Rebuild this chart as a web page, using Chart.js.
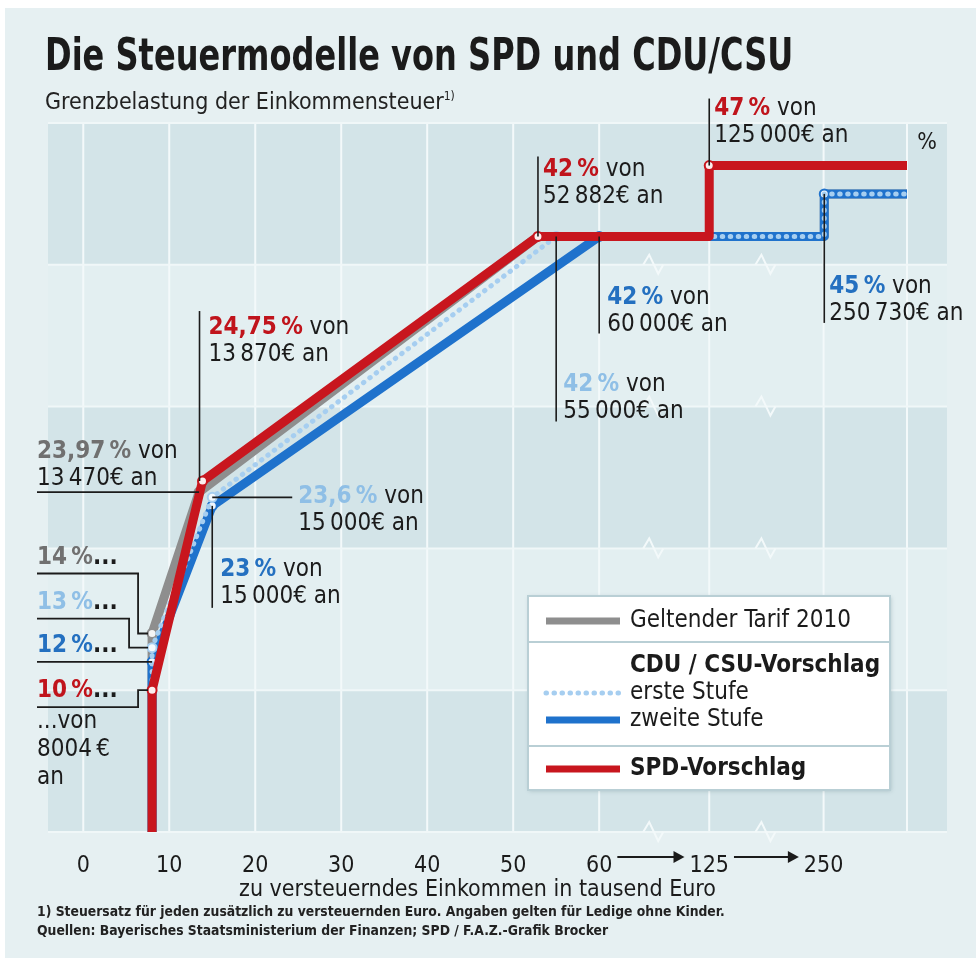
<!DOCTYPE html>
<html lang="de">
<head>
<meta charset="UTF-8" />
<title>Die Steuermodelle von SPD und CDU/CSU</title>
<style>
  body { margin: 0; width: 976px; height: 958px; background: #fff; position: relative; overflow: hidden;
         font-family: "DejaVu Sans Condensed", "Liberation Sans Narrow", "DejaVu Sans", sans-serif; color: #1b1b1b; }
  #panel { position: absolute; left: 5px; top: 8px; width: 971px; height: 950px; background: #e6f0f2; }
  h1 { position: absolute; left: 45px; top: 29px; margin: 0; font-size: 44px; font-weight: bold; z-index: 2;
       white-space: nowrap; transform: scaleX(0.81); transform-origin: 0 0; }
  .sub { position: absolute; left: 45px; top: 88px; font-size: 23px; z-index: 2; color: #222; }
  .sub sup { font-size: 12px; }
  canvas { position: absolute; left: 0; top: 0; z-index: 1; }
  .foot { position: absolute; left: 37px; top: 902px; font-size: 13.8px; line-height: 19px; font-weight: bold; color: #222; z-index: 2; }
</style>
</head>
<body>
  <div id="panel"></div>
  <h1>Die Steuermodelle von SPD und CDU/CSU</h1>
  <div class="sub">Grenzbelastung der Einkommensteuer<sup>1)</sup></div>
  <canvas id="chart" width="976" height="958"></canvas>
  <div class="foot">
    1) Steuersatz für jeden zusätzlich zu versteuernden Euro. Angaben gelten für Ledige ohne Kinder.<br />
    Quellen: Bayerisches Staatsministerium der Finanzen; SPD / F.A.Z.-Grafik Brocker
  </div>

  <script src="https://cdn.jsdelivr.net/npm/chart.js"></script>
  <script>
    const FONT = '"DejaVu Sans Condensed", "Liberation Sans Narrow", "DejaVu Sans", sans-serif';

    // Einkommen in tausend Euro, Grenzsteuersatz in Prozent
    const incomeTarif2010 = [8.004, 8.004, 13.47, 52.882, 250.73, 250.73, 340];
    const rateTarif2010 = [0, 14, 23.97, 42, 42, 45, 45];

    const incomeCduStufe1 = [8.004, 8.004, 15, 55, 250.73, 250.73, 340];
    const rateCduStufe1 = [0, 13, 23.6, 42, 42, 45, 45];

    const incomeCduStufe2 = [8.004, 8.004, 15, 60, 250.73, 250.73, 340];
    const rateCduStufe2 = [0, 12, 23, 42, 42, 45, 45];

    const incomeSpd = [8.004, 8.004, 13.87, 52.882, 125, 125, 340];
    const rateSpd = [0, 10, 24.75, 42, 42, 47, 47];

    const xTickValues = [0, 10, 20, 30, 40, 50, 60, 125, 250];
    const yTickValues = [0, 10, 20, 30, 40];
    const legendGroupTitle = "CDU / CSU-Vorschlag";

    const RED = "#c8161e", GRAY = "#8e8e8e", BLUE = "#1f72cc", LIGHT = "#a6cef0";
    const TXT_RED = "#c0141c", TXT_GRAY = "#707070", TXT_BLUE = "#2470c0", TXT_LIGHT = "#8fbfe6";
    const INK = "#1b1b1b";

    // gestauchte x-Achse: 60 -> 125 -> 250
    const breakIn = [0, 60, 125, 250, 340];
    const breakOut = [0, 60, 72.8, 86.1, 95.8];
    function axisX(k) {
      for (let i = 1; i < breakIn.length; i++) {
        if (k <= breakIn[i]) {
          const t = (k - breakIn[i - 1]) / (breakIn[i] - breakIn[i - 1]);
          return breakOut[i - 1] + t * (breakOut[i] - breakOut[i - 1]);
        }
      }
      return breakOut[breakOut.length - 1];
    }
    const toPoints = (inc, rate) => inc.map((k, i) => ({ x: axisX(k), y: rate[i] }));
    const marker = (idx) => (c) => (idx.includes(c.dataIndex) ? 4.5 : 0);

    const pct = (r) => String(r).replace(".", ",") + "\u202F%";
    const eur = (k) => {
      const n = Math.round(k * 1000);
      const s = n >= 10000 ? String(n).replace(/\B(?=(\d{3})+(?!\d))/g, "\u2009") : String(n);
      return s + "€";
    };

    const datasets = [
      {
        label: "SPD-Vorschlag",
        data: toPoints(incomeSpd, rateSpd),
        borderColor: RED, borderWidth: 9, order: 1,
        pointRadius: marker([1, 2, 3, 5]),
        pointBackgroundColor: "#fbeeee", pointBorderColor: RED, pointBorderWidth: 2,
      },
      {
        label: "erste Stufe",
        data: toPoints(incomeCduStufe1, rateCduStufe1),
        borderColor: LIGHT, borderWidth: 5, borderDash: [0.5, 7.5], borderCapStyle: "round", order: 2,
        pointRadius: marker([1, 2, 3]),
        pointBackgroundColor: "#f4f9fd", pointBorderColor: LIGHT, pointBorderWidth: 2,
      },
      {
        label: "zweite Stufe",
        data: toPoints(incomeCduStufe2, rateCduStufe2),
        borderColor: BLUE, borderWidth: 9, order: 3,
        pointRadius: marker([1, 2, 3, 5]),
        pointBackgroundColor: "#eef5fc", pointBorderColor: BLUE, pointBorderWidth: 2,
      },
      {
        label: "Geltender Tarif 2010",
        data: toPoints(incomeTarif2010, rateTarif2010),
        borderColor: GRAY, borderWidth: 9, order: 4,
        pointRadius: marker([1, 2]),
        pointBackgroundColor: "#f4f4f4", pointBorderColor: GRAY, pointBorderWidth: 2,
      },
    ];
    datasets.forEach((d) => { d.fill = false; d.tension = 0; d.borderJoinStyle = "round"; d.pointHoverRadius = 0; });

    // Beschriftungen: Datensatz, Punkt, Art der Hinweislinie, Versatz
    const notes = [
      { ds: 0, i: 5, kind: "v", lx: 0, len: -67, tx: 5, ty: -57, c: TXT_RED },
      { ds: 0, i: 3, kind: "v", lx: 0, len: -80, tx: 5, ty: -67, c: TXT_RED },
      { ds: 2, i: 3, kind: "v", lx: 0, len: 97, tx: 8, ty: 61, c: TXT_BLUE },
      { ds: 1, i: 3, kind: "v", lx: 0, len: 185, tx: 7, ty: 148, c: TXT_LIGHT },
      { ds: 2, i: 5, kind: "v", lx: 0, len: 129, tx: 5, ty: 93, c: TXT_BLUE },
      { ds: 0, i: 2, kind: "v", lx: -3, len: -170, tx: 6, ty: -153, c: TXT_RED },
      { ds: 3, i: 2, kind: "left", ty: -40, c: TXT_GRAY },
      { ds: 1, i: 2, kind: "right", len: 80, tx: 86, ty: -1, c: TXT_LIGHT },
      { ds: 2, i: 2, kind: "v", lx: 0, len: 102, tx: 8, ty: 64, c: TXT_BLUE },
      { ds: 3, i: 1, kind: "elbow", ly: -60, ex: -14, c: TXT_GRAY },
      { ds: 1, i: 1, kind: "elbow", ly: -29, ex: -23, c: TXT_LIGHT },
      { ds: 2, i: 1, kind: "elbow", ly: 0, ex: 0, c: TXT_BLUE },
      { ds: 0, i: 1, kind: "elbow", ly: 17, ex: -14, c: TXT_RED, tail: true },
    ];
    const seriesData = [
      [incomeSpd, rateSpd],
      [incomeCduStufe1, rateCduStufe1],
      [incomeCduStufe2, rateCduStufe2],
      [incomeTarif2010, rateTarif2010],
    ];

    function rich(ctx, x, y, segs, size) {
      let cx = x;
      segs.forEach((s) => {
        ctx.font = (s.b ? "bold " : "") + size + "px " + FONT;
        ctx.fillStyle = s.c;
        ctx.fillText(s.t, cx, y);
        cx += ctx.measureText(s.t).width;
      });
    }
    function line(ctx, pts, color, w) {
      ctx.beginPath();
      ctx.moveTo(pts[0][0], pts[0][1]);
      pts.slice(1).forEach((p) => ctx.lineTo(p[0], p[1]));
      ctx.strokeStyle = color;
      ctx.lineWidth = w;
      ctx.stroke();
    }

    const backdrop = {
      id: "backdrop",
      beforeDatasetsDraw(chart) {
        const { ctx, chartArea: ca, scales: { x: xs, y: ys } } = chart;
        ctx.save();
        for (let i = 0; i < 5; i++) {
          const top = ys.getPixelForValue(10 * (i + 1)), bot = ys.getPixelForValue(10 * i);
          ctx.fillStyle = i % 2 === 0 ? "#d3e4e8" : "#e3eff1";
          ctx.fillRect(ca.left, top, ys.right - ca.left, bot - top);
        }
        const vx = xTickValues.map((v) => xs.getPixelForValue(axisX(v))).concat([ca.right]);
        vx.forEach((px) => line(ctx, [[px, ca.top], [px, ca.bottom]], "#f3f9fa", 2));
        [0, 10, 20, 30, 40, 50].forEach((v) => {
          const py = ys.getPixelForValue(v);
          line(ctx, [[ca.left, py], [ys.right, py]], "#f0f7f8", 2);
        });
        // Achsenbruch-Zeichen
        const breaks = [(axisX(60) + axisX(125)) / 2, (axisX(125) + axisX(250)) / 2];
        breaks.forEach((b) => {
          const px = xs.getPixelForValue(b);
          [0, 10, 20, 30, 40].forEach((v) => {
            const py = ys.getPixelForValue(v);
            line(ctx, [[px - 11, py], [px - 5, py - 10], [px + 4, py + 9], [px + 9, py]], "#f3f9fa", 2);
          });
        });
        ctx.restore();
      },
    };

    const overlay = {
      id: "overlay",
      afterDraw(chart) {
        const { ctx, chartArea: ca, scales: { x: xs, y: ys } } = chart;
        ctx.save();
        ctx.textBaseline = "middle";
        ctx.lineCap = "butt";

        // Prozentzeichen an der y-Achse
        ctx.font = "23px " + FONT;
        ctx.fillStyle = INK;
        ctx.textAlign = "center";
        ctx.fillText("%", (ys.left + ys.right) / 2, ys.getPixelForValue(48.6));
        ctx.textAlign = "left";

        // Pfeile 60 -> 125 -> 250
        const ay = ca.bottom + 25;
        const half = (v) => ctx.measureText(String(v)).width / 2;
        [[60, 125], [125, 250]].forEach(([a, b]) => {
          const x0 = xs.getPixelForValue(axisX(a)) + half(a) + 5;
          const x1 = xs.getPixelForValue(axisX(b)) - half(b) - 5;
          line(ctx, [[x0, ay], [x1 - 8, ay]], INK, 2);
          ctx.beginPath();
          ctx.moveTo(x1, ay); ctx.lineTo(x1 - 11, ay - 6); ctx.lineTo(x1 - 11, ay + 6); ctx.closePath();
          ctx.fillStyle = INK; ctx.fill();
        });

        // Beschriftungen
        const leftX = ca.left - 11, lh = 27, fs = 24;
        notes.forEach((n) => {
          const el = chart.getDatasetMeta(n.ds).data[n.i];
          const px = el.x, py = el.y;
          const [inc, rate] = seriesData[n.ds];
          const head = [{ t: pct(rate[n.i]), c: n.c, b: true }, { t: " von", c: INK }];
          const foot = [{ t: eur(inc[n.i]) + " an", c: INK }];
          if (n.kind === "v") {
            line(ctx, [[px + n.lx, py], [px + n.lx, py + n.len]], INK, 1.6);
            rich(ctx, px + n.tx, py + n.ty, head, fs);
            rich(ctx, px + n.tx, py + n.ty + lh, foot, fs);
          } else if (n.kind === "left") {
            line(ctx, [[leftX, py], [px, py]], INK, 1.6);
            rich(ctx, leftX, py + n.ty, head, fs);
            rich(ctx, leftX, py + n.ty + lh, foot, fs);
          } else if (n.kind === "right") {
            line(ctx, [[px, py], [px + n.len, py]], INK, 1.6);
            rich(ctx, px + n.tx, py + n.ty, head, fs);
            rich(ctx, px + n.tx, py + n.ty + lh, foot, fs);
          } else {
            const ly = py + n.ly, ex = px + n.ex;
            line(ctx, [[leftX, ly], [ex, ly], [ex, py], [px - 4, py]], INK, 1.8);
            rich(ctx, leftX, ly - 16, [{ t: pct(rate[n.i]), c: n.c, b: true }, { t: "...", c: INK, b: true }], fs);
            if (n.tail) {
              rich(ctx, leftX, ly + 15, [{ t: "...von", c: INK }], fs);
              rich(ctx, leftX, ly + 43, [{ t: eur(inc[n.i]).replace("€", "\u2009€"), c: INK }], fs);
              rich(ctx, leftX, ly + 71, [{ t: "an", c: INK }], fs);
            }
          }
        });

        // Legende
        const bx = ca.right - 379, by = ca.bottom - 236, bw = 362, bh = 194;
        ctx.shadowColor = "rgba(90,120,130,0.35)";
        ctx.shadowBlur = 4; ctx.shadowOffsetX = 1; ctx.shadowOffsetY = 1;
        ctx.fillStyle = "#ffffff";
        ctx.fillRect(bx, by, bw, bh);
        ctx.shadowColor = "transparent";
        ctx.strokeStyle = "#b9cfd5"; ctx.lineWidth = 2;
        ctx.strokeRect(bx, by, bw, bh);
        line(ctx, [[bx, by + 46], [bx + bw, by + 46]], "#b9cfd5", 2);
        line(ctx, [[bx, by + 150], [bx + bw, by + 150]], "#b9cfd5", 2);
        const sample = (ds, y) => {
          ctx.save();
          ctx.beginPath();
          ctx.moveTo(bx + 18, y); ctx.lineTo(bx + 92, y);
          ctx.strokeStyle = ds.borderColor;
          ctx.lineWidth = ds.borderDash ? 5 : 7;
          ctx.setLineDash(ds.borderDash || []);
          ctx.lineCap = ds.borderDash ? "round" : "butt";
          ctx.stroke();
          ctx.restore();
        };
        const tx = bx + 102, ls = 24;
        sample(datasets[3], by + 25);
        rich(ctx, tx, by + 25, [{ t: datasets[3].label, c: INK }], ls);
        rich(ctx, tx, by + 70, [{ t: legendGroupTitle, c: INK, b: true }], ls);
        sample(datasets[1], by + 97);
        rich(ctx, tx, by + 97, [{ t: datasets[1].label, c: INK }], ls);
        sample(datasets[2], by + 124);
        rich(ctx, tx, by + 124, [{ t: datasets[2].label, c: INK }], ls);
        sample(datasets[0], by + 173);
        rich(ctx, tx, by + 173, [{ t: datasets[0].label, c: INK, b: true }], ls);
        ctx.restore();
      },
    };

    Chart.defaults.font.family = FONT;
    Chart.defaults.color = INK;

    new Chart(document.getElementById("chart").getContext("2d"), {
      type: "line",
      data: { datasets },
      plugins: [backdrop, overlay],
      options: {
        responsive: false,
        animation: false,
        layout: { padding: { left: 48, top: 123, right: 29, bottom: 54 } },
        plugins: { legend: { display: false }, tooltip: { enabled: false } },
        scales: {
          x: {
            type: "linear",
            min: -4.1,
            max: 95.8,
            grid: { display: false },
            border: { display: false },
            afterBuildTicks: (s) => { s.ticks = xTickValues.map((v) => ({ value: axisX(v) })); },
            afterFit: (s) => { s.height = 72; },
            ticks: {
              autoSkip: false, maxRotation: 0, padding: 12,
              font: { size: 23 },
              callback: (v, i) => String(xTickValues[i]),
            },
            title: {
              display: true,
              text: "zu versteuerndes Einkommen in tausend Euro",
              font: { size: 23 },
              padding: { top: 0, bottom: 0 },
            },
          },
          y: {
            position: "right",
            min: 0,
            max: 50,
            grid: { display: false },
            border: { display: false },
            afterBuildTicks: (s) => { s.ticks = yTickValues.map((v) => ({ value: v })); },
            afterFit: (s) => { s.width = 40; },
            ticks: { font: { size: 23 }, labelOffset: -14, crossAlign: "center", padding: 0 },
          },
        },
      },
    });
  </script>
</body>
</html>
